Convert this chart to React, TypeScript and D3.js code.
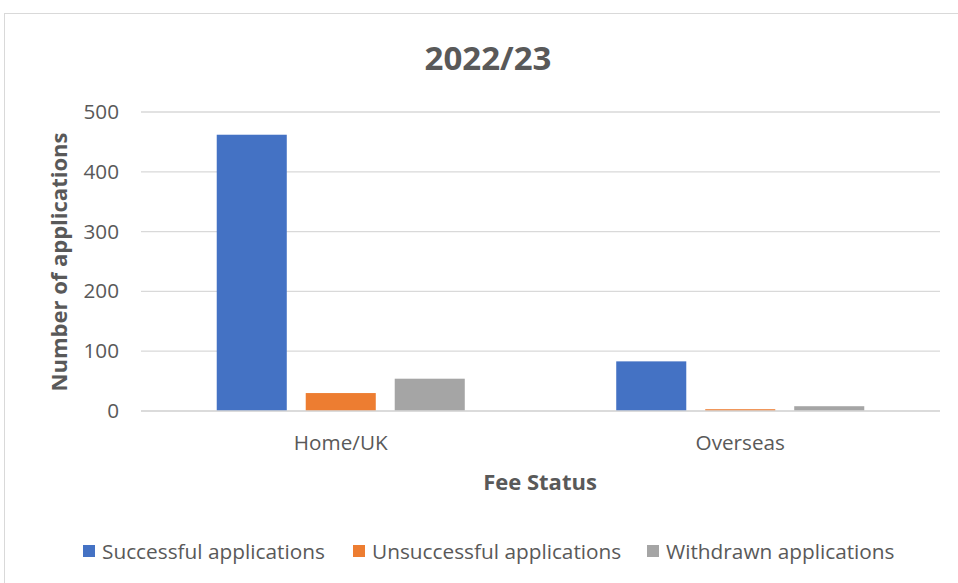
import React from "react";
import * as d3 from "d3";

const categories = ["Home/UK", "Overseas"];
const seriesNames = ["Successful applications", "Unsuccessful applications", "Withdrawn applications"];
const successful = [462, 83];
const unsuccessful = [30, 3];
const withdrawn = [54, 8];
const yTicks = [0, 100, 200, 300, 400, 500];
const colors = ["#4472C4", "#ED7D31", "#A5A5A5"];

const W = 958;
const H = 583;
const font = "'Open Sans', sans-serif";

export default function App() {
  const series = [successful, unsuccessful, withdrawn];
  const left = 141, right = 940, top = 112, bottom = 411;
  const x0 = d3.scaleBand<string>().domain(categories).range([left, right]).paddingInner(0).paddingOuter(0);
  const x1 = d3.scaleBand<string>().domain(seriesNames).range([0, x0.bandwidth()]).paddingInner(0.213).paddingOuter(0.851);
  const y = d3.scaleLinear().domain([0, 500]).range([bottom, top]);
  const legendX = [83, 353, 647];

  return (
    <svg width={W} height={H} style={{ position: "absolute", left: 0, top: 0, display: "block" }}>
      <rect x={0} y={0} width={W} height={H} fill="#fff" />
      <rect x={4.5} y={13.5} width={W + 10} height={H} fill="#fff" stroke="#d9d9d9" strokeWidth={1} />
      <text x={488} y={70} textAnchor="middle" fontFamily={font} fontWeight="bold" fontSize={33} fill="#595959">2022/23</text>
      {yTicks.map((t) => (
        <g key={t}>
          <line x1={left} x2={right} y1={y(t)} y2={y(t)} stroke="#d9d9d9" strokeWidth={1.3} />
          <text x={119} y={y(t) + 7} textAnchor="end" fontFamily={font} fontSize={20.7} fill="#595959">{t}</text>
        </g>
      ))}
      {categories.map((c, ci) => (
        <g key={c}>
          {series.map((s, si) => (
            <rect key={si} x={(x0(c) ?? 0) + (x1(seriesNames[si]) ?? 0)} y={y(s[ci])} width={x1.bandwidth()}
              height={bottom - y(s[ci])} fill={colors[si]} />
          ))}
          <text x={(x0(c) ?? 0) + x0.bandwidth() / 2} y={450} textAnchor="middle" fontFamily={font} fontSize={20.7} fill="#595959">{c}</text>
        </g>
      ))}
      <line x1={left} x2={right} y1={bottom} y2={bottom} stroke="#d9d9d9" strokeWidth={1.3} />
      <text x={540} y={490} textAnchor="middle" fontFamily={font} fontWeight="bold" fontSize={22} fill="#595959">Fee Status</text>
      <text transform={`translate(67,262) rotate(-90)`} textAnchor="middle" fontFamily={font} fontWeight="bold" fontSize={22} fill="#595959">Number of applications</text>
      {seriesNames.map((n, i) => (
        <g key={n}>
          <rect x={legendX[i]} y={545} width={12} height={12} fill={colors[i]} />
          <text x={legendX[i] + 19} y={559} fontFamily={font} fontSize={20.8} fill="#595959">{n}</text>
        </g>
      ))}
    </svg>
  );
}
